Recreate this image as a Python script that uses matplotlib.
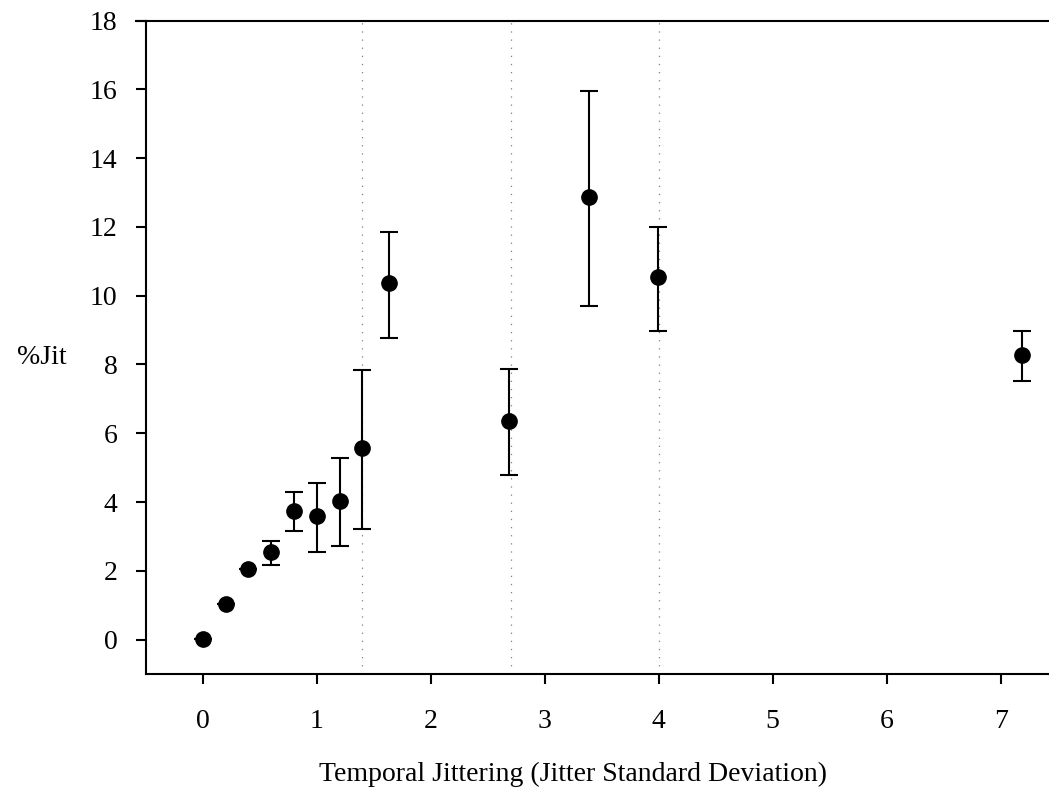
import numpy as np
import matplotlib
matplotlib.use("Agg")
from matplotlib import pyplot as plt

plt.rcParams['font.family'] = ['Liberation Serif', 'DejaVu Serif']

# jitter SD, %Jit and error bar ends
jitter = [0.0, 0.2, 0.4, 0.6, 0.8, 1.0, 1.2, 1.4, 1.63, 2.69, 3.39, 3.99, 7.19]
pct_jit = [0.02, 1.04, 2.06, 2.56, 3.75, 3.59, 4.04, 5.57, 10.36, 6.37, 12.88, 10.54, 8.29]
err_low = [0.02, 1.04, 2.06, 2.17, 3.15, 2.54, 2.73, 3.22, 8.78, 4.78, 9.71, 8.98, 7.53]
err_high = [0.02, 1.04, 2.06, 2.88, 4.29, 4.56, 5.28, 7.85, 11.86, 7.88, 15.96, 11.99, 8.96]
ref_lines = [1.4, 2.7, 4.0]
xticks = [0, 1, 2, 3, 4, 5, 6, 7]
yticks = [0, 2, 4, 6, 8, 10, 12, 14, 16, 18]

my_dpi = 100
fs = 20
fig = plt.figure(figsize=(1049 / my_dpi, 791 / my_dpi), dpi=my_dpi, facecolor='w')
# axes runs a bit past the right edge, like the original
ax = fig.add_axes([145.7 / 1049, 1 - 674 / 791, 912 / 1049, 653.4 / 791])

yerr = [np.array(pct_jit) - np.array(err_low), np.array(err_high) - np.array(pct_jit)]

for xv in ref_lines:
    ax.axvline(xv, color='#808080', linewidth=0.9, linestyle=(0, (1, 5.5)), zorder=1)

ax.errorbar(jitter, pct_jit, yerr=yerr, fmt='o', color='black', markersize=11,
            elinewidth=1.5, capsize=6.5, capthick=1.5, zorder=3)

ax.set_xlim(-0.5, 7.5)
ax.set_ylim(-1, 18)
ax.set_xticks(xticks)
ax.set_yticks(yticks)
ax.tick_params(axis='both', direction='out', length=7.2, width=1.5, labelsize=fs)
ax.tick_params(axis='x', pad=18)
ax.tick_params(axis='y', pad=13)

for s in ['left', 'bottom', 'top']:
    ax.spines[s].set_linewidth(1.5)
ax.spines['right'].set_visible(False)

# top spine also gets pulled out to the left like the 18 tick
ax.plot([-0.5 - 10 / 114, -0.5], [18, 18], color='black', linewidth=1.5, clip_on=False)

fig.text(573 / 1049, 1 - 774 / 791, 'Temporal Jittering (Jitter Standard Deviation)',
         ha='center', va='center', fontsize=fs)
fig.text(42 / 1049, 1 - 357 / 791, '%Jit', ha='center', va='center', fontsize=fs)

plt.savefig('out.png', dpi=my_dpi)
